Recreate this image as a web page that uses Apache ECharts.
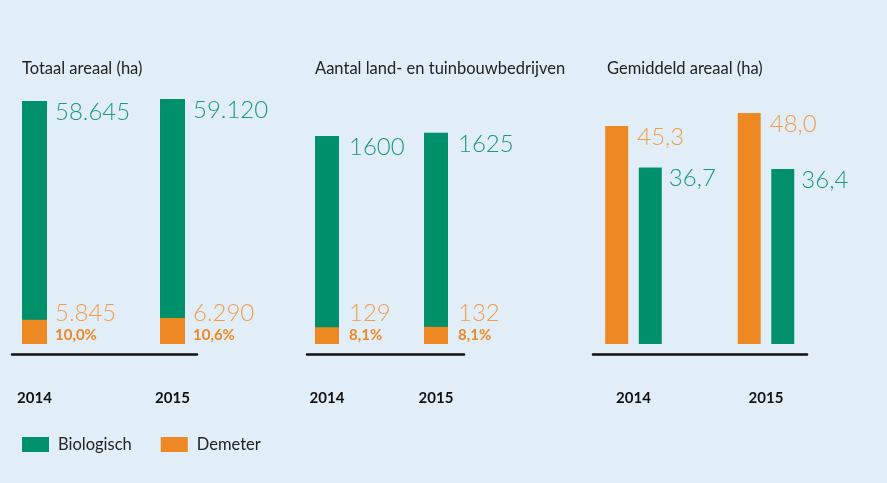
<!DOCTYPE html>
<html>
<head>
<meta charset="utf-8">
<script src="https://cdn.jsdelivr.net/npm/echarts@6/dist/echarts.min.js"></script>
<style>
  html, body { margin: 0; padding: 0; background: #e2eef7; }
  #chart { width: 887px; height: 483px; }
</style>
</head>
<body>
<div id="chart"></div>
<script>
// data
const years = ['2014', '2015']
const titles = ['Totaal areaal (ha)', 'Aantal land- en tuinbouwbedrijven', 'Gemiddeld areaal (ha)']
const areaBio = [58645, 59120]
const areaDem = [5845, 6290]
const farmsBio = [1600, 1625]
const farmsDem = [129, 132]
const avgDem = [45.3, 48.0]
const avgBio = [36.7, 36.4]

const GREEN = '#00916a'
const ORANGE = '#ee8822'
const GREEN_TXT = '#1b9a78'
const ORANGE_TXT = '#f09d4a'
const FONT = 'Lato, "Open Sans", sans-serif'

// 58645 -> 58.645
const fmtThousands = (v) => String(v).replace(/\B(?=(\d{3})+(?!\d))/g, '.')
// 45.3 -> 45,3
const fmtDec = (v) => v.toFixed(1).replace('.', ',')
const pct = (part, whole) => fmtDec(part / whole * 100) + '%'

const chart = echarts.init(document.getElementById('chart'))

// bar grids + separate grids that only carry the black baseline
const barGrids = [
  { left: -34.5, width: 276, top: 90, height: 254 },
  { left: 272.5, width: 218, top: 90, height: 254 },
  { left: 567.25, width: 265, top: 90, height: 254 }
]
const lineGrids = [
  { left: 12, width: 185, top: 344, height: 10 },
  { left: 307, width: 157, top: 344, height: 10 },
  { left: 593, width: 214, top: 344, height: 10 }
]
const yMax = [61300, 1954, 52.8]

const xAxes = []
const yAxes = []
barGrids.forEach((g, i) => {
  xAxes.push({
    type: 'category', gridIndex: i, data: years,
    axisLine: { show: false }, axisTick: { show: false },
    axisLabel: { margin: 47, fontSize: 15, fontWeight: 'bold', color: '#111', fontFamily: FONT }
  })
  yAxes.push({ type: 'value', gridIndex: i, min: 0, max: yMax[i], show: false })
})
lineGrids.forEach((g, i) => {
  xAxes.push({
    type: 'value', gridIndex: 3 + i, min: 0, max: 1,
    axisLine: { show: true, lineStyle: { color: '#111', width: 2.5 } },
    axisTick: { show: false }, axisLabel: { show: false }, splitLine: { show: false }
  })
  yAxes.push({ type: 'value', gridIndex: 3 + i, min: 0, max: 1, show: false })
})

function topLabel(dx, color, fmt) {
  return {
    show: true, position: [dx, -1], align: 'left', verticalAlign: 'top',
    color: color, fontSize: 24, fontWeight: 300, fontFamily: FONT,
    formatter: (p) => fmt(p.value)
  }
}

function stackLabel(dx, totals, fmt) {
  return {
    show: true, position: [dx, '100%'], align: 'left', verticalAlign: 'bottom',
    fontFamily: FONT,
    formatter: (p) => '{v|' + fmt(p.value) + '}\n{p|' + pct(p.value, totals[p.dataIndex]) + '}',
    rich: {
      v: { fontSize: 24, fontWeight: 300, color: ORANGE_TXT, lineHeight: 26, fontFamily: FONT },
      p: { fontSize: 15, fontWeight: 'bold', color: ORANGE, lineHeight: 18, fontFamily: FONT }
    }
  }
}

const series = [
  // Totaal areaal
  { name: 'Biologisch', type: 'bar', xAxisIndex: 0, yAxisIndex: 0, data: areaBio, barWidth: 25, barGap: '-100%',
    itemStyle: { color: GREEN }, label: topLabel(33, GREEN_TXT, fmtThousands) },
  { name: 'Demeter', type: 'bar', xAxisIndex: 0, yAxisIndex: 0, data: areaDem, barWidth: 25, barGap: '-100%',
    itemStyle: { color: ORANGE }, label: stackLabel(33, areaBio, fmtThousands) },
  // Aantal bedrijven
  { name: 'Biologisch', type: 'bar', xAxisIndex: 1, yAxisIndex: 1, data: farmsBio, barWidth: 24, barGap: '-100%',
    itemStyle: { color: GREEN }, label: topLabel(34, GREEN_TXT, String) },
  { name: 'Demeter', type: 'bar', xAxisIndex: 1, yAxisIndex: 1, data: farmsDem, barWidth: 24, barGap: '-100%',
    itemStyle: { color: ORANGE }, label: stackLabel(34, farmsBio, String) },
  // Gemiddeld areaal
  { name: 'Demeter', type: 'bar', xAxisIndex: 2, yAxisIndex: 2, data: avgDem, barWidth: 23, barGap: '46%',
    itemStyle: { color: ORANGE }, label: topLabel(32, ORANGE_TXT, fmtDec) },
  { name: 'Biologisch', type: 'bar', xAxisIndex: 2, yAxisIndex: 2, data: avgBio, barWidth: 23, barGap: '46%',
    itemStyle: { color: GREEN }, label: topLabel(30, GREEN_TXT, fmtDec) }
]

chart.setOption({
  backgroundColor: '#e2eef7',
  animation: false,
  title: titles.map((t, i) => ({
    text: t, left: [22, 315, 607][i], top: 60, padding: 0,
    textStyle: { fontSize: 16.5, fontWeight: 'normal', color: '#222', fontFamily: FONT }
  })),
  legend: {
    data: ['Biologisch', 'Demeter'],
    left: 22, top: 436, padding: 0,
    itemWidth: 27, itemHeight: 15, itemGap: 29,
    icon: 'rect',
    textStyle: { fontSize: 16.5, color: '#222', fontFamily: FONT, padding: [0, 0, 0, 4] }
  },
  grid: barGrids.concat(lineGrids).map((g) => Object.assign({ outerBoundsMode: 'none', containLabel: false }, g)),
  xAxis: xAxes,
  yAxis: yAxes,
  series: series
})
</script>
</body>
</html>
